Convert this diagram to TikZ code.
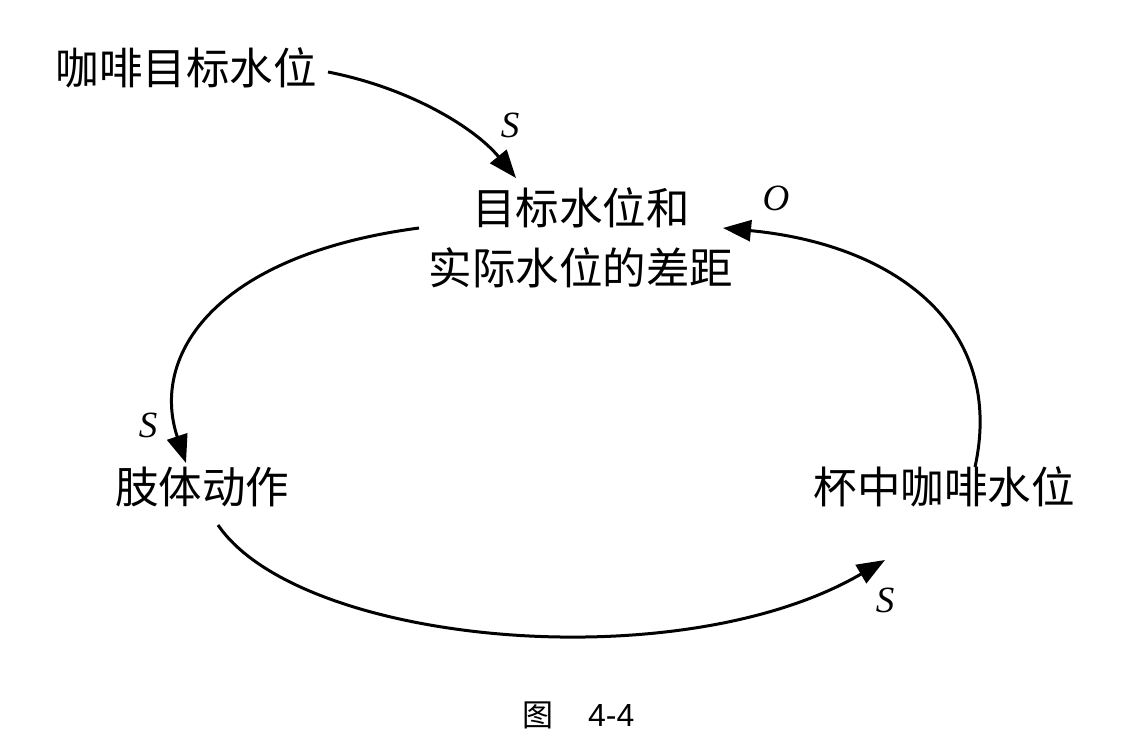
\documentclass[tikz,border=0pt]{standalone}
\usepackage{fontspec}
\setmainfont{Liberation Serif}
\newfontfamily\cjk{Noto Sans CJK SC}
\newfontfamily\lsans{Liberation Sans}
\usetikzlibrary{arrows.meta,calc}
\begin{document}
\begin{tikzpicture}[x=1pt,y=-1pt,
  lbl/.style={font=\cjk\fontsize{43.5}{60}\selectfont, inner sep=0pt, align=center},
  pol/.style={font=\fontsize{37}{37}\selectfont\itshape, inner sep=0pt},
  link/.style={line width=3pt, -{Triangle[length=28pt,width=21pt]}}]
\useasboundingbox[fill=white] (0,0) rectangle (1124,744);
\node[lbl] (goal) at (186,68) {咖啡目标水位};
\node[lbl] (gap) at (581,238) {目标水位和\\实际水位的差距};
\node[lbl] (limb) at (202,487) {肢体动作};
\node[lbl] (cup) at (944,487) {杯中咖啡水位};
\node[pol] (s1) at (510,125) {S};
\node[pol] (s2) at (148,425) {S};
\node[pol] (s3) at (885,600) {S};
\node[pol] (o1) at (776,198) {O};
\node[inner sep=0pt, font=\cjk\fontsize{31}{31}\selectfont] (capa) at (538,715) {图};
\node[inner sep=0pt, font=\lsans\fontsize{32}{32}\selectfont, anchor=west] (capb) at (588,715) {4-4};
\draw[link] ($(goal.center)+(142,4)$) .. controls (410,88) and (475,128) .. ($(gap.center)+(-65,-60)$);
\draw[link] ($(gap.center)+(-162,-10)$) .. controls (215,255) and (150,355) .. ($(limb.center)+(-16,-24)$);
\draw[link] ($(limb.center)+(16,38)$) .. controls (300,645) and (680,680) .. ($(cup.center)+(-59,73)$);
\draw[link] ($(cup.center)+(31,-20)$) .. controls (1005,330) and (900,245) .. ($(gap.center)+(142,-10)$);
\end{tikzpicture}
\end{document}
